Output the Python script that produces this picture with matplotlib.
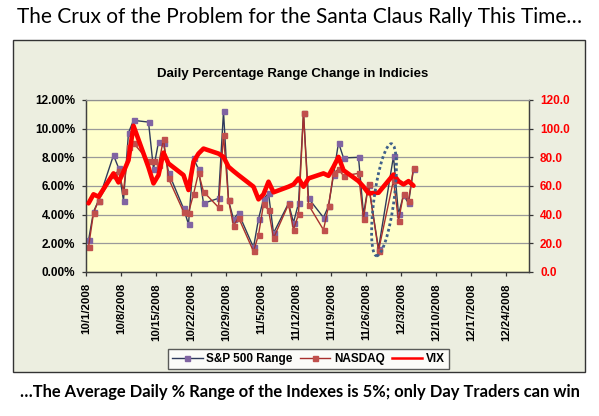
import matplotlib
matplotlib.use('Agg')
import matplotlib.pyplot as plt
import matplotlib.dates as mdates
from matplotlib.lines import Line2D
from matplotlib.patches import Rectangle, Ellipse
from matplotlib.transforms import IdentityTransform, ScaledTranslation

# trading days shown in the chart
dates = ['2008-10-01', '2008-10-02', '2008-10-03', '2008-10-06', '2008-10-07',
         '2008-10-08', '2008-10-09', '2008-10-10', '2008-10-13', '2008-10-14',
         '2008-10-15', '2008-10-16', '2008-10-17', '2008-10-20', '2008-10-21',
         '2008-10-22', '2008-10-23', '2008-10-24', '2008-10-27', '2008-10-28',
         '2008-10-29', '2008-10-30', '2008-10-31', '2008-11-03', '2008-11-04',
         '2008-11-05', '2008-11-06', '2008-11-07', '2008-11-10', '2008-11-11',
         '2008-11-12', '2008-11-13', '2008-11-14', '2008-11-17', '2008-11-18',
         '2008-11-19', '2008-11-20', '2008-11-21', '2008-11-24', '2008-11-25',
         '2008-11-26', '2008-11-28', '2008-12-01', '2008-12-02', '2008-12-03',
         '2008-12-04', '2008-12-05']

# daily range in percent
sp500 = [2.2, 4.21, 4.98, 8.15, 7.27, 4.98, 9.72, 10.58, 10.46, 7.18,
         9.07, 9.0, 6.94, 4.44, 3.33, 7.92, 7.18, 4.79, 5.14, 11.2,
         5.0, 3.7, 4.1, 1.71, 3.7, 5.09, 5.49, 2.71, 4.79, 3.45,
         4.79, 11.1, 5.14, 3.8, 4.6, 6.76, 9.03, 7.96, 8.0, 4.03,
         6.1, 1.62, 8.08, 4.03, 5.37, 4.79, 7.18]
nasdaq = [1.74, 4.1, 4.98, 6.8, 7.04, 5.65, 8.73, 9.0, 7.75, 7.75,
          7.45, 9.3, 6.53, 4.21, 4.14, 5.42, 6.92, 5.6, 4.51, 9.58,
          5.02, 3.22, 3.8, 1.44, 2.59, 4.72, 4.33, 2.36, 4.72, 2.94,
          4.03, 11.1, 4.68, 2.94, 4.6, 6.9, 7.18, 6.71, 6.88, 3.7,
          6.13, 1.48, 6.41, 3.56, 5.42, 4.95, 7.27]
vix = [47.9, 54.2, 52.5, 68.8, 62.5, 69.9, 78.0, 102.0, 73.0, 61.8,
       67.6, 83.3, 75.7, 67.6, 57.2, 76.9, 82.6, 86.1, 82.6, 80.3,
       73.4, 70.4, 67.6, 59.5, 50.7, 54.2, 63.0, 55.6, 59.5, 61.1,
       65.3, 59.5, 65.3, 68.8, 67.1, 73.4, 80.3, 71.0, 63.4, 59.5,
       54.9, 55.3, 68.0, 63.4, 61.1, 63.4, 60.2]

tick_dates = ['2008-10-01', '2008-10-08', '2008-10-15', '2008-10-22', '2008-10-29',
              '2008-11-05', '2008-11-12', '2008-11-19', '2008-11-26', '2008-12-03',
              '2008-12-10', '2008-12-17', '2008-12-24']
tick_labels = ['10/1/2008', '10/8/2008', '10/15/2008', '10/22/2008', '10/29/2008',
               '11/5/2008', '11/12/2008', '11/19/2008', '11/26/2008', '12/3/2008',
               '12/10/2008', '12/17/2008', '12/24/2008']

x = mdates.datestr2num(dates) + 0.5
x0 = mdates.datestr2num('2008-10-01')

fig = plt.figure(figsize=(5.99, 4.16), dpi=100)
fig.patch.set_facecolor('white')

# chart area box
box = Rectangle((13 / 599, 44 / 416), 572 / 599, 332 / 416, transform=fig.transFigure,
                facecolor='#ECEEE0', edgecolor='#333333', linewidth=1.0, zorder=-1)
fig.add_artist(box)

ax = fig.add_axes([86 / 599, 144 / 416, 443 / 599, 172 / 416])
ax.set_facecolor('#FFFFCC')
ax2 = ax.twinx()

ax.plot(x, sp500, color='#2E3A5C', lw=1.0, marker='s', ms=3.6,
        mfc='#8064A2', mec='#8064A2', label='S&P 500 Range', zorder=3)
ax.plot(x, nasdaq, color='#A8302E', lw=1.0, marker='s', ms=3.6,
        mfc='#C0504D', mec='#C0504D', label='NASDAQ', zorder=4)
ax2.plot(x, vix, color='#FF0000', lw=3.3, label='VIX', solid_joinstyle='round',
         solid_capstyle='round', zorder=5)

ax.set_xlim(x0, x0 + 88.6)
ax.set_ylim(0, 12)
ax2.set_ylim(0, 120)

ax.set_yticks([0, 2, 4, 6, 8, 10, 12])
ax.set_yticklabels(['%.2f%%' % v for v in [0, 2, 4, 6, 8, 10, 12]],
                   fontsize=8.5, fontweight='bold', family='Liberation Sans')
ax2.set_yticks([0, 20, 40, 60, 80, 100, 120])
ax2.set_yticklabels(['%.1f' % v for v in [0, 20, 40, 60, 80, 100, 120]],
                    fontsize=8.5, fontweight='bold', color='#FF0000', family='Liberation Sans')
ax.set_xticks(mdates.datestr2num(tick_dates))
ax.set_xticklabels(tick_labels, rotation=90, fontsize=8.2, fontweight='bold',
                   family='Liberation Sans')
for lab in ax.get_xticklabels():
    lab.set_transform(lab.get_transform() + ScaledTranslation(3 / 100, 0, fig.dpi_scale_trans))

ax.grid(axis='y', color='#9A9A9A', lw=0.9)
ax.set_axisbelow(True)
ax.tick_params(axis='both', direction='out', length=3, width=0.9, color='#333333', pad=5)
ax2.tick_params(axis='y', direction='out', length=3, width=0.9, color='#333333', pad=5)
for a in (ax, ax2):
    for s in ('left', 'right', 'bottom'):
        a.spines[s].set_color('#404040')
        a.spines[s].set_linewidth(0.9)
    a.spines['top'].set_color('#909090')

# dotted ring around the Nov 28 low
cx, cy = ax.transData.transform((mdates.datestr2num('2008-11-28') + 1.6, 5.04))
ring = Ellipse((cx, cy), 20, 113, angle=-7.6, transform=IdentityTransform(),
               fill=False, edgecolor='#3E5F8A', lw=2.0, linestyle=(0, (1, 1.0)), zorder=10)
fig.add_artist(ring)

# legend: thinner VIX sample line than in the plot
h1, l1 = ax.get_legend_handles_labels()
vix_handle = Line2D([], [], color='#FF0000', lw=1.8)
leg = fig.legend(h1 + [vix_handle], l1 + ['VIX'], loc='center',
                 bbox_to_anchor=(308.5 / 599, 57 / 416),
                 ncol=3, frameon=True, fancybox=False, edgecolor='#333333',
                 prop={'family': 'Liberation Sans', 'weight': 'bold', 'size': 8.5},
                 numpoints=1, handlelength=2.6, handletextpad=0.3, columnspacing=0.6,
                 borderpad=0.35)
leg.get_frame().set_linewidth(1.0)

fig.text(293 / 599, 1 - 74 / 416, 'Daily Percentage Range Change in Indicies',
         ha='center', va='center', fontsize=9.5, fontweight='bold', family='Liberation Sans')
fig.text(0.5, 1 - 17 / 416, 'The Crux of the Problem for the Santa Claus Rally This Time\u2026',
         ha='center', va='center', fontsize=15, family='Lato')
fig.text(0.5, 1 - 392 / 416,
         '\u2026The Average Daily % Range of the Indexes is 5%; only Day Traders can win',
         ha='center', va='center', fontsize=11.9, fontweight='bold', family='Lato')

fig.savefig('out.png', dpi=100)
